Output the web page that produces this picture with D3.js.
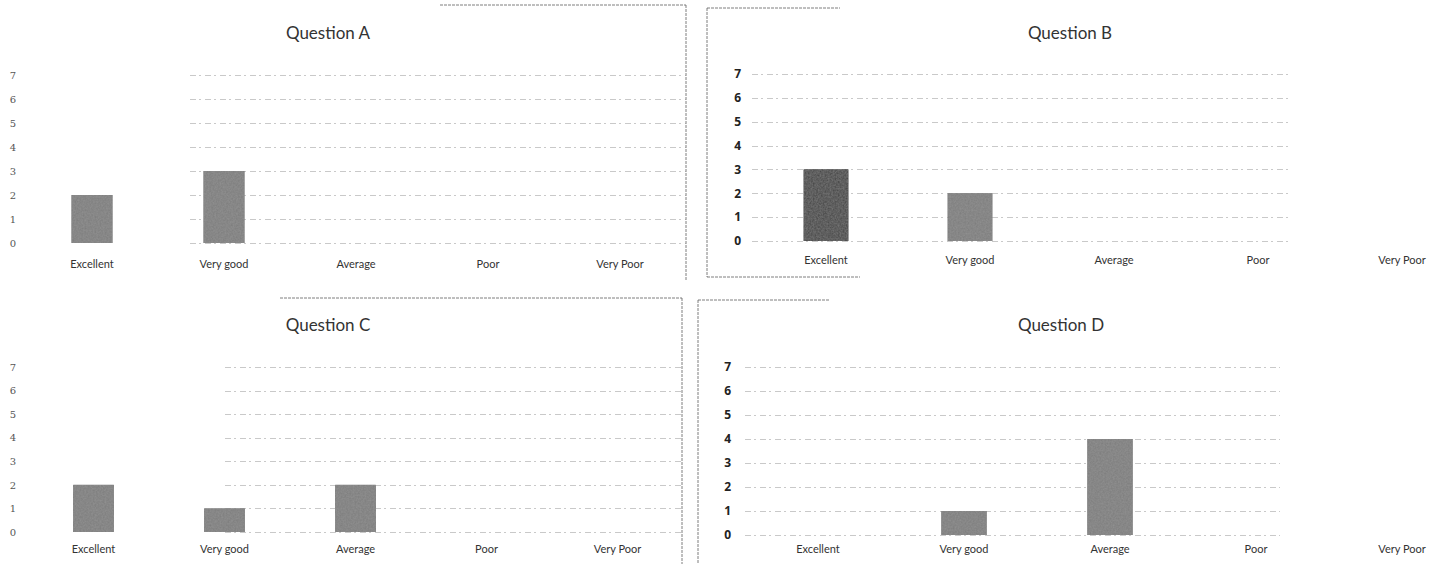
<!DOCTYPE html>
<html>
<head>
<meta charset="utf-8">
<script src="https://cdn.jsdelivr.net/npm/d3@7"></script>
<style>
  html, body { margin: 0; padding: 0; background: #ffffff; }
  svg { display: block; }
</style>
</head>
<body>
<svg id="chart" width="1444" height="564"></svg>
<script>
// ---- data ----
const categories = ["Excellent", "Very good", "Average", "Poor", "Very Poor"];
const questionTitles = ["Question A", "Question B", "Question C", "Question D"];
const valuesA = [2, 3, 0, 0, 0];
const valuesB = [3, 2, 0, 0, 0];
const valuesC = [2, 1, 2, 0, 0];
const valuesD = [0, 1, 4, 0, 0];
const yTickValues = [0, 1, 2, 3, 4, 5, 6, 7];

// ---- layout (positions / styles only) ----
const panels = [
  { title: questionTitles[0], values: valuesA, x0: 26, x1: 686, y0: 243, y7: 75,
    titleX: 328, titleY: 39, labelY: 270, tickX: 13, tickStyle: "light",
    gridX0: 190, gridX1: 686, barColors: ["#7b7b7b"] },
  { title: questionTitles[1], values: valuesB, x0: 754, x1: 1474, y0: 241, y7: 74,
    titleX: 1070, titleY: 39, labelY: 266, tickX: 741, tickStyle: "bold",
    gridX0: 752, gridX1: 1290, barColors: ["#3b3b3b", "#7b7b7b"] },
  { title: questionTitles[2], values: valuesC, x0: 28, x1: 683, y0: 532, y7: 367,
    titleX: 328, titleY: 331, labelY: 555, tickX: 13, tickStyle: "light",
    gridX0: 225, gridX1: 682, barColors: ["#7b7b7b"] },
  { title: questionTitles[3], values: valuesD, x0: 745, x1: 1475, y0: 535, y7: 367,
    titleX: 1061, titleY: 331, labelY: 555, tickX: 731, tickStyle: "bold",
    gridX0: 745, gridX1: 1280, barColors: ["#7b7b7b"] }
];

const svg = d3.select("#chart");

// subtle scan-like texture for the bars
const defs = svg.append("defs");
const filt = defs.append("filter").attr("id", "grain").attr("x", 0).attr("y", 0).attr("width", 1).attr("height", 1);
filt.append("feTurbulence").attr("type", "fractalNoise").attr("baseFrequency", 0.6).attr("numOctaves", 2).attr("result", "noise");
filt.append("feColorMatrix").attr("in", "noise").attr("type", "matrix")
  .attr("values", "0 0 0 0 0.45  0 0 0 0 0.45  0 0 0 0 0.45  0 0 0 0.35 0").attr("result", "tint");
filt.append("feComposite").attr("in", "tint").attr("in2", "SourceGraphic").attr("operator", "atop").attr("result", "tex");
filt.append("feMerge").call(m => { m.append("feMergeNode").attr("in", "SourceGraphic"); m.append("feMergeNode").attr("in", "tex"); });

// decorative scan borders
const borders = [
  [686, 5, 686, 280], [440, 5, 686, 5],
  [707, 8, 707, 277], [707, 8, 840, 8], [707, 277, 860, 277],
  [682, 298, 682, 564], [280, 298, 682, 298],
  [698, 300, 698, 564], [698, 300, 830, 300]
];
svg.append("g").selectAll("line").data(borders).join("line")
  .attr("x1", d => d[0]).attr("y1", d => d[1]).attr("x2", d => d[2]).attr("y2", d => d[3])
  .attr("stroke", "#555").attr("stroke-width", 1).attr("stroke-dasharray", "3,1").attr("opacity", 0.75);

panels.forEach(p => {
  const g = svg.append("g");
  const x = d3.scaleBand().domain(categories).range([p.x0, p.x1])
    .paddingInner(0.69).paddingOuter(0.345);
  const y = d3.scaleLinear().domain([0, 7]).range([p.y0, p.y7]);

  // gridlines
  g.append("g").selectAll("line").data(yTickValues).join("line")
    .attr("x1", p.gridX0).attr("x2", p.gridX1)
    .attr("y1", d => Math.round(y(d)) + 0.5).attr("y2", d => Math.round(y(d)) + 0.5)
    .attr("stroke", "#8a8a8a").attr("stroke-width", 1)
    .attr("stroke-dasharray", "6,3,2,4").attr("opacity", 0.45);

  // y tick labels via axis
  const yAxis = d3.axisLeft(y).tickValues(yTickValues).tickSize(0).tickPadding(0).tickFormat(d3.format("d"));
  const ya = g.append("g").attr("transform", `translate(${p.tickX},0)`).call(yAxis);
  ya.select(".domain").remove();
  ya.selectAll("text")
    .attr("text-anchor", p.tickStyle === "bold" ? "end" : "middle")
    .attr("font-family", p.tickStyle === "bold" ? "'Open Sans', sans-serif" : "'DejaVu Serif', serif")
    .attr("font-size", p.tickStyle === "bold" ? 12 : 10)
    .attr("font-weight", p.tickStyle === "bold" ? 700 : 400)
    .attr("fill", p.tickStyle === "bold" ? "#222" : "#555");

  // x category labels via axis
  const xAxis = d3.axisBottom(x).tickSize(0).tickPadding(0);
  const xa = g.append("g").attr("transform", `translate(0,${p.labelY - 10})`).call(xAxis);
  xa.select(".domain").remove();
  xa.selectAll("text")
    .attr("font-family", "Lato, 'Open Sans', sans-serif")
    .attr("font-size", 11).attr("fill", "#333");

  // bars
  g.append("g").selectAll("rect").data(categories.map((c, i) => ({ c, v: p.values[i], i })))
    .join("rect")
    .attr("x", d => x(d.c))
    .attr("width", x.bandwidth())
    .attr("y", d => y(d.v))
    .attr("height", d => y(0) - y(d.v))
    .attr("fill", d => p.barColors[d.i] || p.barColors[p.barColors.length - 1])
    .attr("filter", "url(#grain)");

  // title
  g.append("text").attr("x", p.titleX).attr("y", p.titleY)
    .attr("text-anchor", "middle")
    .attr("font-family", "Lato, 'Open Sans', sans-serif")
    .attr("font-size", 17).attr("fill", "#333")
    .text(p.title);
});
</script>
</body>
</html>
